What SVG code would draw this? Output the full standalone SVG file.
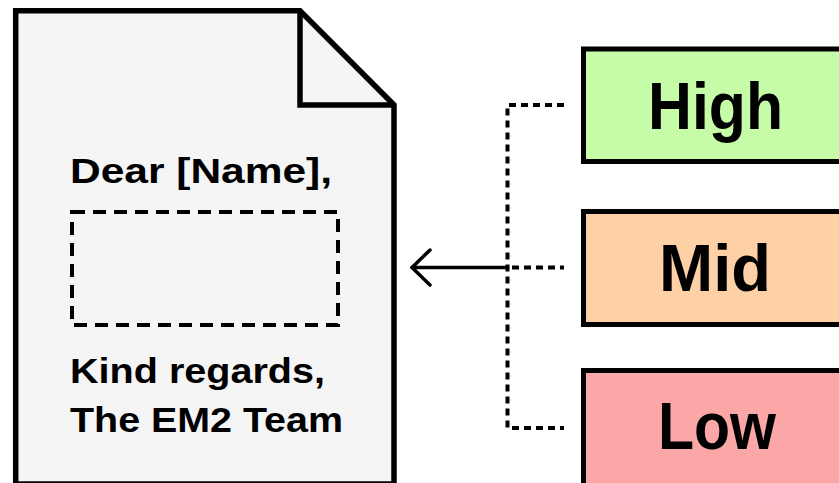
<svg xmlns="http://www.w3.org/2000/svg" width="839" height="483" viewBox="0 0 839 483">
  <style>
    .doc { fill: #f5f5f5; stroke: #000; stroke-width: 5.5; stroke-linejoin: miter; }
    .fold { fill: none; stroke: #000; stroke-width: 5.5; stroke-linejoin: miter; }
    .slot { fill: none; stroke: #000; stroke-width: 4; stroke-dasharray: 13 8; }
    .doc-text { font-family: "Liberation Sans", Arial, sans-serif; font-weight: bold; font-size: 35px; fill: #000; }
    .tier { stroke: #000; stroke-width: 5; }
    .tier-text { font-family: "Liberation Sans", Arial, sans-serif; font-weight: bold; font-size: 67px; fill: #000; text-anchor: middle; }
    .link { fill: none; stroke: #000; stroke-width: 4; stroke-dasharray: 7 5; }
    .arrow { fill: none; stroke: #000; stroke-width: 3.5; stroke-linecap: round; stroke-linejoin: round; }
  </style>

  <!-- letter template -->
  <g id="letter">
    <path class="doc" d="M15.7 10.8 H300 L394 105 V484 H15.7 Z"/>
    <path class="fold" d="M300 10.8 V105 H394"/>
    <text class="doc-text" x="70" y="183" textLength="262" lengthAdjust="spacingAndGlyphs">Dear [Name],</text>
    <rect class="slot" x="72" y="212" width="266" height="113"/>
    <text class="doc-text" x="70" y="383" textLength="255" lengthAdjust="spacingAndGlyphs">Kind regards,</text>
    <text class="doc-text" x="70" y="432" textLength="273" lengthAdjust="spacingAndGlyphs">The EM2 Team</text>
  </g>

  <!-- tiers -->
  <g id="tier-high">
    <rect class="tier" x="583.5" y="49" width="280" height="112.5" fill="#c6fca7"/>
    <text class="tier-text" x="715.5" y="129" textLength="135" lengthAdjust="spacingAndGlyphs">High</text>
  </g>
  <g id="tier-mid">
    <rect class="tier" x="583.5" y="211.5" width="280" height="113" fill="#fdd0a6"/>
    <text class="tier-text" x="715" y="291" textLength="112" lengthAdjust="spacingAndGlyphs">Mid</text>
  </g>
  <g id="tier-low">
    <rect class="tier" x="583.5" y="370.5" width="280" height="130" fill="#fca7a7"/>
    <text class="tier-text" x="717" y="449" textLength="118" lengthAdjust="spacingAndGlyphs">Low</text>
  </g>

  <!-- connectors -->
  <g id="connectors">
    <path class="link" d="M564 105 H507.5 V428 H564"/>
    <path class="link" d="M512 267.5 H564"/>
    <path class="arrow" d="M507.5 267.5 H412"/>
    <path class="arrow" d="M430 250 L412 267.5 L430 285"/>
  </g>
</svg>
